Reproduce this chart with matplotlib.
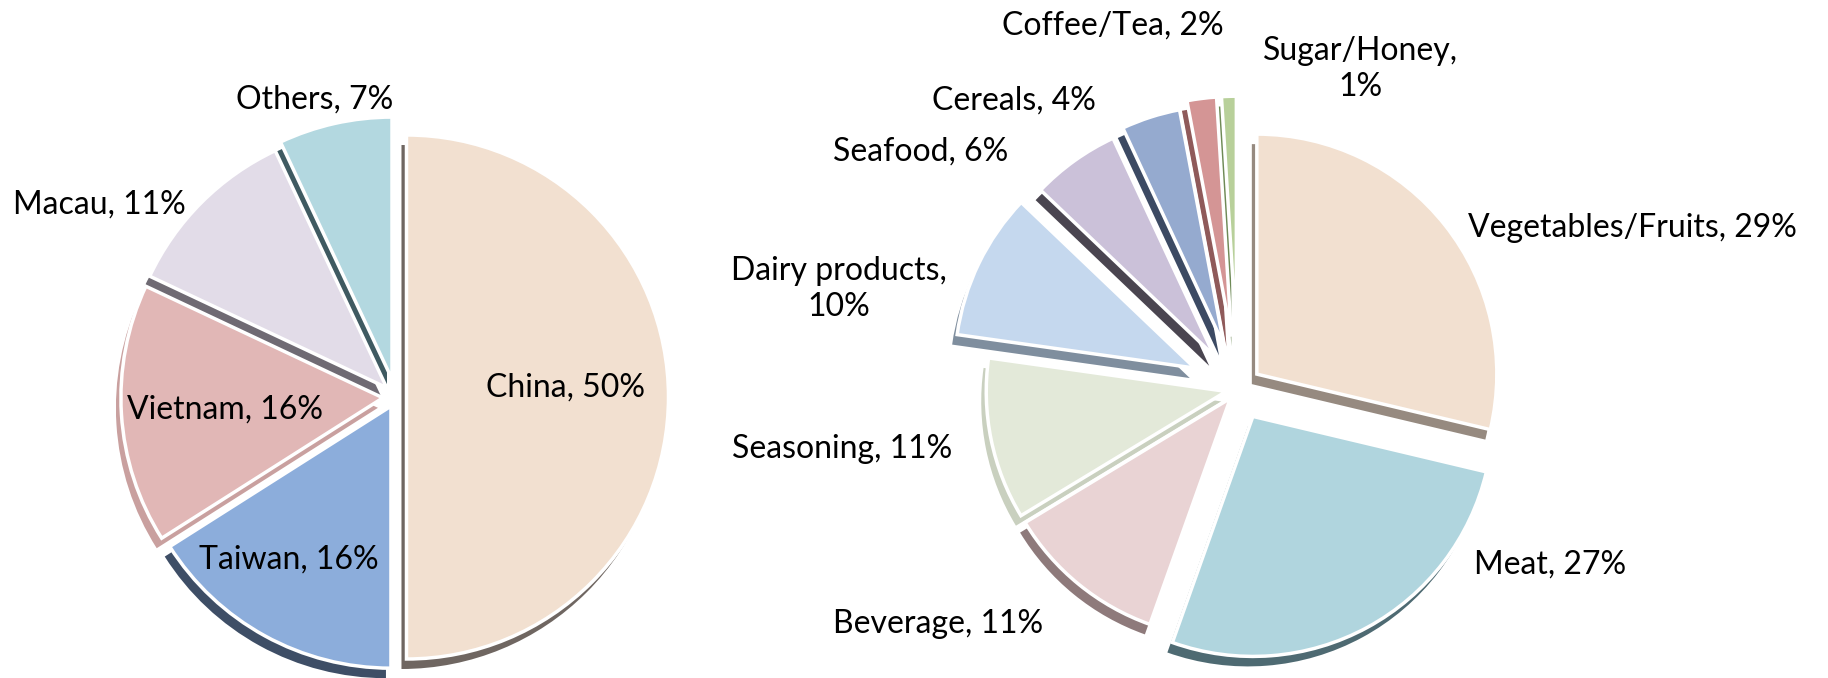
import matplotlib
matplotlib.use("Agg")
import matplotlib.pyplot as plt

# ---------------- data ----------------
origin_labels = ["China", "Taiwan", "Vietnam", "Macau", "Others"]
origin_share = [50, 16, 16, 11, 7]

food_labels = ["Vegetables/Fruits", "Meat", "Beverage", "Seasoning",
               "Dairy products", "Seafood", "Cereals", "Coffee/Tea", "Sugar/Honey"]
food_share = [29, 27, 11, 11, 10, 6, 4, 2, 1]

# ---------------- styles ----------------
origin_colors = ["#F2E0D0", "#8CADDB", "#E1B7B6", "#E2DCE8", "#B3D8E0"]
origin_depth = ["#6F6661", "#3E4E66", "#C9A09F", "#6F6A73", "#3F5A61"]
origin_explode = [0.04, 0.04, 0.05, 0.05, 0.07]

food_colors = ["#F2E0D0", "#B0D5DE", "#E9D3D4", "#E3E9D9", "#C5D8EE",
               "#CBC1D9", "#95AACF", "#D49595", "#B8D09A"]
food_depth = ["#968A80", "#4E6A72", "#8E7A7B", "#C9D0BF", "#7F8E9E",
              "#4A4550", "#3C4A63", "#8F5A5A", "#6E8A56"]
food_explode = [0.10, 0.13, 0.05, 0.05, 0.20, 0.17, 0.19, 0.22, 0.22]

W, H = 1828, 678
fig = plt.figure(figsize=(W / 100, H / 100), dpi=100)
ax = fig.add_axes([0, 0, 1, 1])

plt.rcParams["font.family"] = ["Lato", "DejaVu Sans"]
FS = 23


def draw_pie(values, colors, depth, explode, center, radius):
    # pie() takes explode in data units, so scale by the radius
    expl = [e * radius for e in explode]
    cx, cy = center
    # darker copy shifted down-left gives the extruded 3D edge
    ax.pie(values, colors=depth, explode=expl, startangle=90,
           counterclock=False, center=(cx - 5, cy - 10), radius=radius,
           wedgeprops=dict(linewidth=0), frame=True)
    ax.pie(values, colors=colors, explode=expl, startangle=90,
           counterclock=False, center=(cx, cy), radius=radius,
           wedgeprops=dict(edgecolor="white", linewidth=2.5), frame=True)


draw_pie(origin_share, origin_colors, origin_depth, origin_explode, (396, 281), 262)
draw_pie(food_share, food_colors, food_depth, food_explode, (1238, 289), 240)
ax.set_xlim(0, W)
ax.set_ylim(0, H)
ax.set_aspect("equal")
ax.axis("off")

# label positions in image pixels (x, y from top)
origin_pos = [(565, 388), (289, 560), (225, 410), (99, 205), (315, 100)]
food_pos = [(1632, 228), (1550, 565), (938, 624), (842, 449), (839, 289),
            (921, 152), (1014, 101), (1113, 26), (1360, 69)]
food_wrap = [False, False, False, False, True, False, False, False, True]

for name, v, (x, y) in zip(origin_labels, origin_share, origin_pos):
    ax.text(x, H - y, f"{name}, {v}%", ha="center", va="center",
            fontsize=FS, color="black")

for name, v, (x, y), wrap in zip(food_labels, food_share, food_pos, food_wrap):
    sep = ",\n" if wrap else ", "
    ax.text(x, H - y, f"{name}{sep}{v}%", ha="center", va="center",
            fontsize=FS, color="black", linespacing=1.25)

fig.savefig("out.png", dpi=100)
